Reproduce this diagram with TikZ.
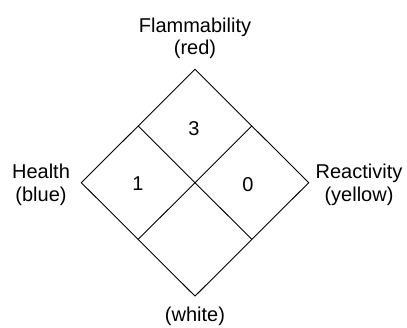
\documentclass[tikz,border=0pt]{standalone}
\usepackage{fontspec}
\setmainfont{Liberation Sans}
\usetikzlibrary{calc}
\begin{document}
\begin{tikzpicture}[x=1pt,y=-1pt,
  edge/.style={line width=0.9pt,line join=miter},
  lbl/.style={font=\fontsize{20}{22.5}\selectfont,align=center,inner sep=0pt,anchor=north},
  num/.style={font=\fontsize{20}{22.5}\selectfont,inner sep=0pt,anchor=base}]
  \useasboundingbox (0,0) rectangle (407,327);
  % corners of the hazard diamond
  \coordinate (T) at (195,69.3);
  \coordinate (L) at (81.3,182.7);
  \coordinate (R) at (308.7,182.7);
  \coordinate (B) at (195,296.1);
  % midpoints of the sides
  \coordinate (TL) at ($(T)!0.5!(L)$);
  \coordinate (TR) at ($(T)!0.5!(R)$);
  \coordinate (BL) at ($(B)!0.5!(L)$);
  \coordinate (BR) at ($(B)!0.5!(R)$);
  \draw[edge] (T) -- (R) -- (B) -- (L) -- cycle;
  \draw[edge] (TL) -- (BR);
  \draw[edge] (TR) -- (BL);
  % ratings
  \node[num] (n3) at (194,135) {3};
  \node[num] (n1) at (138,190) {1};
  \node[num] (n0) at (248,191) {0};
  % category labels
  \node[lbl] (flam) at (195,17.5) {Flammability\\(red)};
  \node[lbl] (heal) at (41,164) {Health\\(blue)};
  \node[lbl] (reac) at (359,164) {Reactivity\\(yellow)};
  \node[lbl] (spec) at (195,307) {(white)};
\end{tikzpicture}
\end{document}
